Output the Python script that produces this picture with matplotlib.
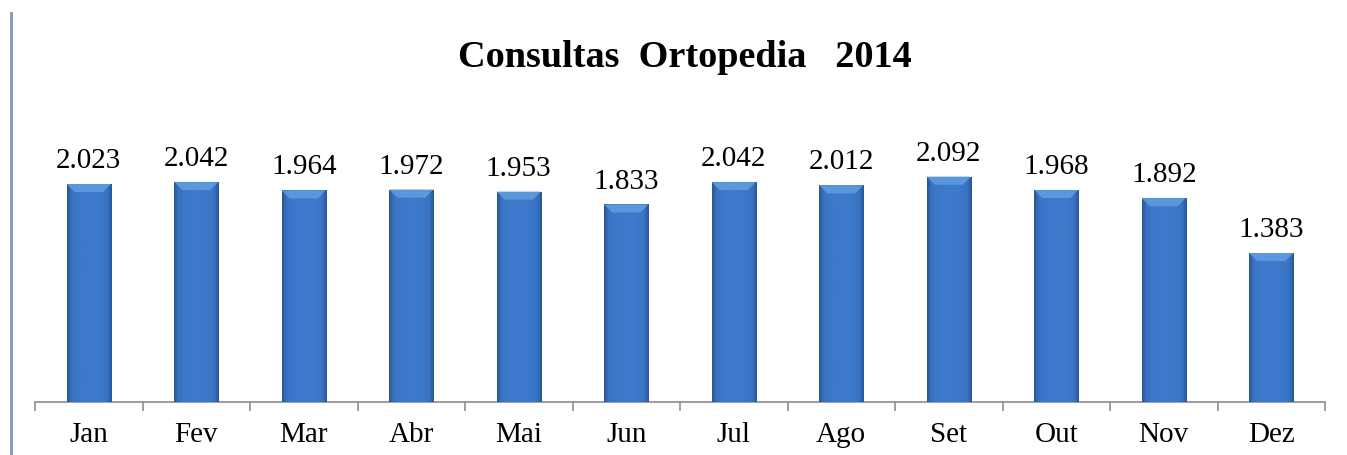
import numpy as np
import matplotlib
matplotlib.use("Agg")
import matplotlib.pyplot as plt
from matplotlib.lines import Line2D
from matplotlib.colors import LinearSegmentedColormap

months = ["Jan", "Fev", "Mar", "Abr", "Mai", "Jun", "Jul", "Ago", "Set", "Out", "Nov", "Dez"]
values = [2023, 2042, 1964, 1972, 1953, 1833, 2042, 2012, 2092, 1968, 1892, 1383]
labels = ["2.023", "2.042", "1.964", "1.972", "1.953", "1.833", "2.042", "2.012", "2.092", "1.968", "1.892", "1.383"]
title = "Consultas  Ortopedia   2014"

plt.rcParams['font.family'] = ['Liberation Serif', 'DejaVu Serif']

W, H = 1347, 456
fig = plt.figure(figsize=(W / 100, H / 100), dpi=100)
ax = fig.add_axes([35 / W, 1 - 403 / H, (1325 - 35) / W, (403 - 100) / H])

x = np.arange(len(months))
bars = ax.bar(x, values, width=0.41, color="#3a74c2", edgecolor="none", zorder=2)

ax.set_xlim(-0.5, len(months) - 0.5)
ax.set_ylim(0, 2812)

# gradient shading clipped to each bar
hgrad = np.linspace(-1, 1, 64)
shade = 1 - 0.35 * np.abs(hgrad) ** 3
cmap = LinearSegmentedColormap.from_list("b", ["#2a5694", "#3973c2", "#3d7acb"])
img = np.tile(shade, (2, 1))
for b in bars:
    x0, y0 = b.get_x(), b.get_y()
    w, h = b.get_width(), b.get_height()
    im = ax.imshow(img, cmap=cmap, vmin=0.65, vmax=1.0, aspect="auto",
                   extent=(x0, x0 + w, y0, y0 + h), zorder=3, interpolation="bilinear")
    im.set_clip_path(b)
    # top bevel highlight
    top = 75
    ax.fill([x0, x0 + w, x0 + w * 0.82, x0 + w * 0.18], [h, h, h - top, h - top],
            color="#5e9be0", alpha=0.9, zorder=4, lw=0)

for xi, v, lab in zip(x, values, labels):
    ax.annotate(lab, (xi, v), xytext=(0, 12.2), textcoords="offset points",
                ha="center", va="baseline", fontsize=21, color="#000000")

ax.set_xticks(x)
ax.set_xticklabels(months, fontsize=21)
ax.tick_params(axis="x", which="major", length=0, pad=14)
ax.set_xticks(np.arange(-0.5, len(months), 1), minor=True)
ax.tick_params(axis="x", which="minor", length=6.5, width=1.2, color="#8c8c8c", direction="out")
ax.set_yticks([])
for s in ["left", "right", "top"]:
    ax.spines[s].set_visible(False)
ax.spines["bottom"].set_color("#8c8c8c")
ax.spines["bottom"].set_linewidth(1.2)
ax.patch.set_alpha(0)

fig.text(684.5 / W, 1 - 67 / H, title, ha="center", va="baseline",
         fontsize=27.5, fontweight="bold")

fig.add_artist(Line2D([10.5 / W, 10.5 / W], [0, 1 - 14 / H], transform=fig.transFigure,
                      color="#8794b8", lw=2.0))

fig.savefig("out.png", dpi=100)
